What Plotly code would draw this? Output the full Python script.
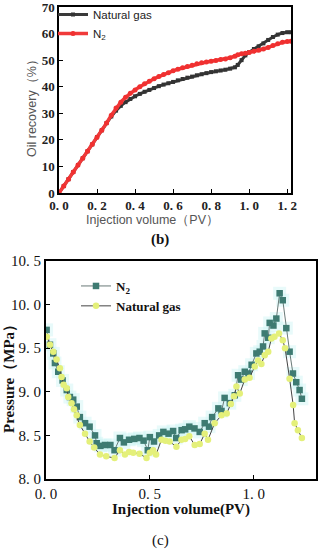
import plotly.graph_objects as go

# ---------- data: panel (b) oil recovery ----------
pv_b = [0, 0.025, 0.05, 0.075, 0.1, 0.125, 0.15, 0.175, 0.2, 0.225, 0.25, 0.275, 0.3, 0.325, 0.35,
        0.375, 0.4, 0.425, 0.45, 0.475, 0.5, 0.525, 0.55, 0.575, 0.6, 0.625, 0.65, 0.675, 0.7, 0.725,
        0.75, 0.775, 0.8, 0.825, 0.85, 0.875, 0.9, 0.925, 0.94, 0.96, 0.98, 1.0, 1.025, 1.05, 1.075,
        1.1, 1.125, 1.15, 1.175, 1.2, 1.22]
rec_ng = [0, 2.6, 5.2, 7.9, 10.5, 13.1, 15.7, 18.3, 21, 23.6, 26.3, 28.8, 31, 32.8, 34.2,
          35.4, 36.4, 37.3, 38.1, 38.8, 39.5, 40.2, 40.8, 41.3, 41.8, 42.4, 42.9, 43.4, 43.8, 44.3,
          44.7, 45.1, 45.5, 45.8, 46.1, 46.4, 46.8, 47.3, 48.2, 50, 51.8, 53, 54.2, 55.2, 56.3,
          57.6, 58.7, 59.6, 60.2, 60.5, 60.5]
rec_n2 = [0, 2.6, 5.2, 7.9, 10.5, 13.1, 15.7, 18.3, 21, 23.6, 26.3, 29.3, 32, 34.2, 36,
          37.5, 38.8, 40, 41.1, 42.1, 43, 43.8, 44.6, 45.3, 46, 46.6, 47.1, 47.6, 48.1, 48.6,
          49, 49.3, 49.6, 49.9, 50.2, 50.4, 50.9, 51.5, 52, 52.4, 52.6, 52.9, 53.3, 53.7, 54.2,
          54.8, 55.5, 56.2, 56.7, 57, 57.1]

# ---------- data: panel (c) pressure ----------
pv_c_n2 = [0.003, 0.019, 0.035, 0.043, 0.059, 0.08, 0.1, 0.115, 0.131, 0.148, 0.163, 0.188, 0.21,
           0.236, 0.244, 0.262, 0.284, 0.31, 0.33, 0.356, 0.375, 0.40, 0.425, 0.45, 0.47, 0.49, 0.50,
           0.52, 0.545, 0.565, 0.59, 0.612, 0.627, 0.653, 0.67, 0.69, 0.715, 0.74, 0.764, 0.785, 0.80,
           0.83, 0.845, 0.86, 0.885, 0.909, 0.925, 0.94, 0.957, 0.975, 0.99, 1.013, 1.029, 1.045,
           1.053, 1.07, 1.077, 1.095, 1.109, 1.125, 1.14, 1.157, 1.173, 1.189, 1.205, 1.221, 1.232]
p_n2 = [9.71, 9.54, 9.44, 9.33, 9.23, 9.13, 9.02, 8.94, 8.91, 8.83, 8.71, 8.64, 8.60,
        8.50, 8.41, 8.38, 8.39, 8.39, 8.33, 8.47, 8.42, 8.45, 8.46, 8.47, 8.44, 8.33, 8.48,
        8.43, 8.50, 8.54, 8.52, 8.55, 8.47, 8.56, 8.57, 8.60, 8.58, 8.54, 8.64, 8.60, 8.71,
        8.81, 8.78, 8.93, 8.87, 8.96, 9.19, 9.14, 9.23, 9.21, 9.31, 9.44, 9.46, 9.52,
        9.67, 9.62, 9.79, 9.76, 9.84, 10.13, 10.05, 9.73, 9.46, 9.21, 9.11, 9.02, 8.92]
pv_c_ng = [0.004, 0.019, 0.035, 0.051, 0.067, 0.075, 0.085, 0.1, 0.107, 0.123, 0.135, 0.148, 0.163,
           0.188, 0.21, 0.232, 0.26, 0.29, 0.33, 0.356, 0.38, 0.40, 0.42, 0.45, 0.484, 0.50, 0.516,
           0.53, 0.556, 0.575, 0.595, 0.628, 0.652, 0.67, 0.69, 0.716, 0.74, 0.764, 0.78, 0.812,
           0.845, 0.87, 0.89, 0.905, 0.917, 0.933, 0.957, 0.98, 1.005, 1.021, 1.037, 1.053, 1.07,
           1.085, 1.1, 1.122, 1.14, 1.151, 1.173, 1.19, 1.197, 1.213, 1.232]
p_ng = [9.63, 9.54, 9.46, 9.37, 9.27, 9.17, 9.08, 9.04, 8.94, 8.87, 8.80, 8.73, 8.62,
        8.52, 8.43, 8.36, 8.28, 8.26, 8.24, 8.33, 8.28, 8.31, 8.30, 8.29, 8.24, 8.30, 8.33,
        8.28, 8.45, 8.44, 8.43, 8.37, 8.45, 8.46, 8.49, 8.39, 8.40, 8.52, 8.45, 8.64,
        8.73, 8.75, 8.86, 8.95, 9.06, 8.98, 9.14, 9.16, 9.29, 9.36, 9.32, 9.42, 9.46,
        9.61, 9.63, 9.67, 9.59, 9.50, 9.15, 8.85, 8.64, 8.56, 8.47]

xb_ticks = [0, 0.2, 0.4, 0.6, 0.8, 1.0, 1.2]
xb_text = ["0. 0", "0. 2", "0. 4", "0. 6", "0. 8", "1. 0", "1. 2"]
yb_ticks = [0, 10, 20, 30, 40, 50, 60, 70]
xc_ticks = [0, 0.5, 1.0]
xc_text = ["0. 0", "0. 5", "1. 0"]
yc_ticks = [8.0, 8.5, 9.0, 9.5, 10.0, 10.5]
yc_text = ["8. 0", "8. 5", "9. 0", "9. 5", "10. 0", "10. 5"]

W, H = 321, 550
def px_x(p): return p / W
def px_y(p): return 1 - p / H

SERIF = "Liberation Serif, Times New Roman, serif"
SANS = "Liberation Sans, Arial, sans-serif"

fig = go.Figure()

# panel (b)
fig.add_trace(go.Scatter(x=pv_b, y=rec_ng, name="Natural gas", mode="lines+markers",
                         line=dict(color="#3a3a3a", width=3),
                         marker=dict(symbol="square", size=4, color="#333333"),
                         xaxis="x", yaxis="y", legend="legend"))
fig.add_trace(go.Scatter(x=pv_b, y=rec_n2, name="N<sub>2</sub>", mode="lines+markers",
                         line=dict(color="#f03a3a", width=3.5),
                         marker=dict(symbol="circle", size=5, color="#f03030"),
                         xaxis="x", yaxis="y", legend="legend"))

# panel (c) halos
fig.add_trace(go.Scatter(x=pv_c_n2, y=p_n2, mode="markers", showlegend=False, hoverinfo="skip",
                         marker=dict(symbol="square", size=13, color="rgba(205,245,245,0.45)"),
                         xaxis="x2", yaxis="y2"))
fig.add_trace(go.Scatter(x=pv_c_n2, y=p_n2, name="<b>N<sub>2</sub></b>", mode="lines+markers",
                         line=dict(color="#6a7a78", width=1),
                         marker=dict(symbol="square", size=6.5, color="#3e7b72"),
                         xaxis="x2", yaxis="y2", legend="legend2"))
fig.add_trace(go.Scatter(x=pv_c_ng, y=p_ng, name="<b>Natural gas</b>", mode="lines+markers",
                         line=dict(color="#444444", width=1),
                         marker=dict(symbol="circle", size=6.5, color="#e4f07a"),
                         xaxis="x2", yaxis="y2", legend="legend2"))

axis_common = dict(showline=True, linecolor="black", mirror=True, ticks="inside",
                   ticklen=4, tickcolor="black", showgrid=False, zeroline=False,
                   automargin=False, ticklabeloverflow="allow")

fig.update_layout(
    width=W, height=H, margin=dict(l=0, r=0, t=0, b=0),
    paper_bgcolor="white", plot_bgcolor="white",
    xaxis=dict(domain=[px_x(59), px_x(291)], range=[0, 1.22], anchor="y",
               tickvals=xb_ticks, ticktext=xb_text, linewidth=1.5,
               tickfont=dict(family=SERIF, size=13, color="#222", weight="bold"), **axis_common),
    yaxis=dict(domain=[px_y(193), px_y(7)], range=[0, 70], anchor="x",
               tickvals=yb_ticks, linewidth=1.5,
               tickfont=dict(family=SERIF, size=13, color="#222", weight="bold"), **axis_common),
    xaxis2=dict(domain=[px_x(46), px_x(316)], range=[0, 1.3], anchor="y2",
                tickvals=xc_ticks, ticktext=xc_text, linewidth=2,
                tickfont=dict(family=SERIF, size=15, color="#111"), **axis_common),
    yaxis2=dict(domain=[px_y(479), px_y(261)], range=[8.0, 10.5], anchor="x2",
                tickvals=yc_ticks, ticktext=yc_text, linewidth=2,
                tickfont=dict(family=SERIF, size=15, color="#111"), **axis_common),
    legend=dict(x=px_x(53), y=px_y(0), xanchor="left", yanchor="top",
                bgcolor="rgba(0,0,0,0)", font=dict(family=SANS, size=11.5, color="#222"),
                itemwidth=30, tracegroupgap=0),
    legend2=dict(x=px_x(76), y=px_y(271), xanchor="left", yanchor="top",
                 bgcolor="rgba(0,0,0,0)", font=dict(family=SERIF, size=13, color="#111"),
                 itemwidth=30, tracegroupgap=0),
    showlegend=True,
)

ann = [
    dict(text="Injection volume（PV）", x=px_x(152), y=px_y(220), font=dict(family=SANS, size=12.5, color="#555")),
    dict(text="Oil recovery（%）", x=px_x(32), y=px_y(105), textangle=-90, font=dict(family=SANS, size=12.5, color="#555")),
    dict(text="<b>(b)</b>", x=px_x(160), y=px_y(239), font=dict(family=SERIF, size=15, color="#111")),
    dict(text="<b>Injection volume(PV)</b>", x=px_x(181), y=px_y(509), font=dict(family=SERIF, size=15, color="#111")),
    dict(text="<b>Pressure（MPa）</b>", x=px_x(9), y=px_y(375), textangle=-90, font=dict(family=SERIF, size=15, color="#111")),
    dict(text="(c)", x=px_x(160), y=px_y(540), font=dict(family=SERIF, size=15, color="#111")),
]
for a in ann:
    fig.add_annotation(xref="paper", yref="paper", showarrow=False, xanchor="center", yanchor="middle", **a)

# remove the default 8px page margin so the figure fills the window exactly
fig.write_html("out.html", config={"displayModeBar": False},
               post_script="document.body.style.margin='0';document.body.style.overflow='hidden';")
